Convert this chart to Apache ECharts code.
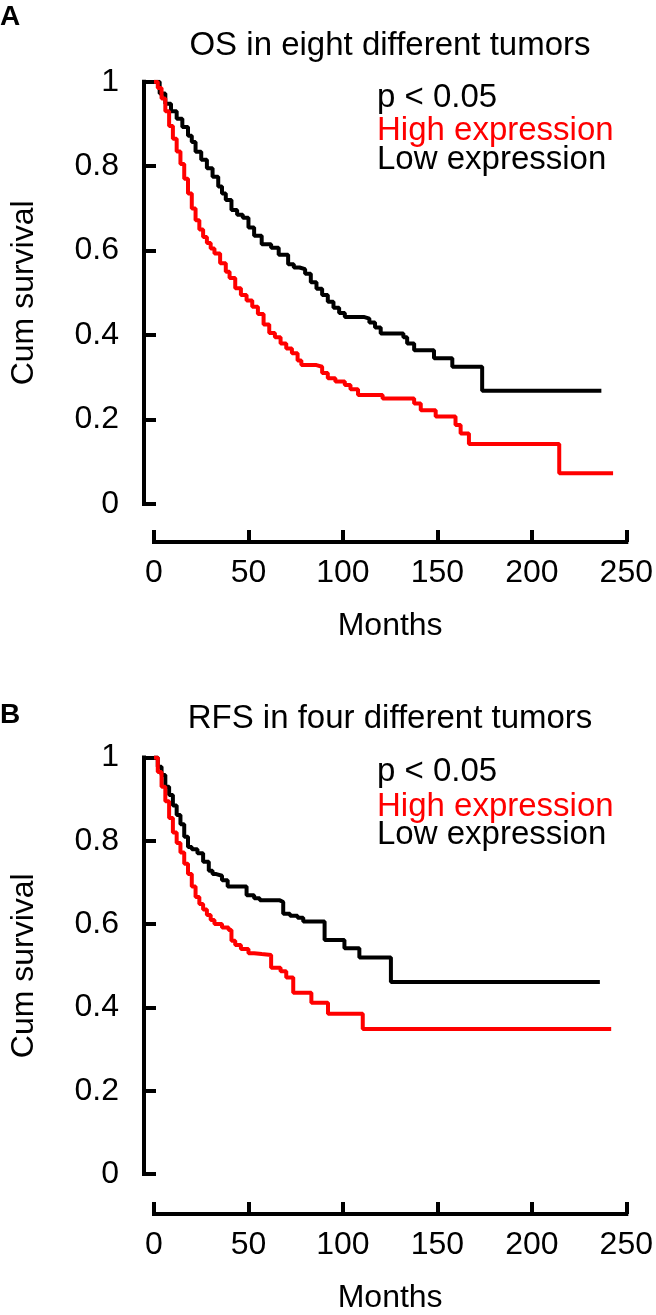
<!DOCTYPE html>
<html>
<head>
<meta charset="utf-8">
<script src="https://cdn.jsdelivr.net/npm/echarts@6/dist/echarts.min.js"></script>
<style>
html,body{margin:0;padding:0;background:#fff;}
#chart{width:656px;height:1315px;}
</style>
</head>
<body>
<div id="chart"></div>
<script>
// ---- Panel A: OS in eight different tumors ----
var osHighMonths = [0, 2, 4, 6, 8, 10, 12, 14, 16, 18, 20, 22, 24, 26, 28, 30, 32, 35, 38, 40, 43, 46, 49, 52, 55, 58, 61, 64, 67, 70, 73, 76, 78, 86, 89, 92, 96, 101, 104, 108, 121, 137.7, 141.2, 149.1, 159.6, 162.3, 166.7, 214.5, 243];
var osHighSurv   = [1, 0.985, 0.96, 0.93, 0.895, 0.865, 0.835, 0.805, 0.77, 0.735, 0.7, 0.672, 0.65, 0.632, 0.618, 0.605, 0.593, 0.57, 0.55, 0.535, 0.511, 0.495, 0.482, 0.467, 0.45, 0.425, 0.405, 0.395, 0.38, 0.368, 0.357, 0.34, 0.329, 0.325, 0.31, 0.298, 0.29, 0.282, 0.272, 0.258, 0.25, 0.238, 0.222, 0.207, 0.187, 0.167, 0.142, 0.073, 0.073];
var osLowMonths  = [0, 3, 6, 9, 12, 15, 18, 20, 22, 25, 28, 31, 34, 36, 38, 41, 44, 47, 50, 53, 57, 62, 66, 71, 74, 77, 80, 83, 86, 89, 92, 95, 98, 101, 111, 114, 117, 120, 132, 134, 137.7, 148.2, 157.9, 173.7, 236.8];
var osLowSurv    = [1, 0.972, 0.948, 0.93, 0.912, 0.893, 0.872, 0.857, 0.834, 0.815, 0.795, 0.775, 0.752, 0.735, 0.72, 0.696, 0.685, 0.678, 0.655, 0.635, 0.615, 0.607, 0.59, 0.568, 0.56, 0.556, 0.545, 0.525, 0.51, 0.495, 0.479, 0.465, 0.452, 0.443, 0.439, 0.43, 0.418, 0.404, 0.395, 0.38, 0.364, 0.345, 0.325, 0.268, 0.268];

// ---- Panel B: RFS in four different tumors ----
var rfsHighMonths = [0, 2, 4, 6, 8, 10, 12, 14, 16, 18, 20, 22, 24, 26, 28, 30, 32, 36, 39.5, 41, 43, 46, 50, 53, 57, 62, 67, 70, 73.7, 83.3, 92.1, 110.5, 242];
var rfsHighSurv   = [1, 0.965, 0.93, 0.895, 0.855, 0.82, 0.795, 0.772, 0.745, 0.72, 0.69, 0.665, 0.648, 0.635, 0.622, 0.61, 0.6, 0.592, 0.586, 0.56, 0.55, 0.54, 0.53, 0.528, 0.526, 0.495, 0.487, 0.472, 0.435, 0.411, 0.385, 0.348, 0.348];
var rfsLowMonths  = [0, 2, 4, 6, 8, 10, 12, 14, 16, 18, 20, 23, 26, 29, 31, 33, 36, 39, 49, 53, 56, 66.6, 68.4, 72, 76, 79, 90.3, 100.8, 108.7, 125.4, 236];
var rfsLowSurv    = [1, 0.978, 0.958, 0.93, 0.91, 0.885, 0.862, 0.84, 0.81, 0.785, 0.78, 0.77, 0.75, 0.728, 0.72, 0.716, 0.705, 0.69, 0.669, 0.662, 0.657, 0.653, 0.625, 0.62, 0.615, 0.606, 0.562, 0.542, 0.52, 0.461, 0.461];

// ---- Axis ticks / labels ----
var xTicks = [0, 50, 100, 150, 200, 250];
var yTicks = [0, 0.2, 0.4, 0.6, 0.8, 1];
var panelLabels = ['A', 'B'];
var panelTitles = ['OS in eight different tumors', 'RFS in four different tumors'];
var annotation = 'p < 0.05';
var seriesNames = ['High expression', 'Low expression'];
var xAxisName = 'Months';
var yAxisName = 'Cum survival';

function zip(xs, ys) { return xs.map(function (x, i) { return [x, ys[i]]; }); }

var FONT = '"Liberation Sans", Arial, sans-serif';
var RED = '#ff0000', BLACK = '#000000';

var grids = [
  { left: 151.7, top: 81.7, width: 475.3, height: 422.3, xOffset: 38 },
  { left: 151.7, top: 757.5, width: 475.3, height: 420.5, xOffset: 40 }
];

function xAxisFor(i) {
  return {
    gridIndex: i, type: 'value',
    min: xTicks[0], max: xTicks[xTicks.length - 1], interval: xTicks[1] - xTicks[0],
    offset: grids[i].xOffset,
    axisLine: { show: true, onZero: false, lineStyle: { color: BLACK, width: 4, cap: 'square' } },
    axisTick: { show: true, inside: true, length: 12, lineStyle: { color: BLACK, width: 4 } },
    axisLabel: { margin: 15, fontSize: 32, color: BLACK, fontFamily: FONT },
    splitLine: { show: false },
    name: xAxisName, nameLocation: 'middle', nameGap: 68,
    nameTextStyle: { fontSize: 32, color: BLACK, fontFamily: FONT }
  };
}
function yAxisFor(i) {
  return {
    gridIndex: i, type: 'value',
    min: yTicks[0], max: yTicks[yTicks.length - 1], interval: yTicks[1] - yTicks[0],
    offset: 10,
    axisLine: { show: true, onZero: false, lineStyle: { color: BLACK, width: 4, cap: 'square' } },
    axisTick: { show: true, inside: true, length: 12, lineStyle: { color: BLACK, width: 4 } },
    axisLabel: { margin: 25, fontSize: 32, color: BLACK, fontFamily: FONT,
      formatter: function (v) { return String(Math.round(v * 10) / 10); } },
    splitLine: { show: false },
    name: yAxisName, nameLocation: 'middle', nameRotate: 90, nameGap: 104,
    nameTextStyle: { fontSize: 32, color: BLACK, fontFamily: FONT }
  };
}
function km(name, data, color, i) {
  return {
    name: name, type: 'line', step: 'end', data: data,
    xAxisIndex: i, yAxisIndex: i,
    showSymbol: false, symbol: 'none', silent: true,
    lineStyle: { color: color, width: 4 }, itemStyle: { color: color },
    z: color === RED ? 3 : 2
  };
}
function txt(t, x, y, opts) {
  opts = opts || {};
  return {
    type: 'text', silent: true, z: 10,
    style: {
      text: t, x: x, y: y, fill: opts.fill || BLACK,
      font: (opts.weight || 'normal') + ' ' + (opts.size || 33) + 'px ' + FONT,
      align: opts.align || 'left', verticalAlign: 'middle'
    }
  };
}

var chart = echarts.init(document.getElementById('chart'), null, { renderer: 'canvas' });
chart.setOption({
  animation: false,
  backgroundColor: '#ffffff',
  grid: grids.map(function (g) { return { left: g.left, top: g.top, width: g.width, height: g.height }; }),
  xAxis: [xAxisFor(0), xAxisFor(1)],
  yAxis: [yAxisFor(0), yAxisFor(1)],
  series: [
    km(seriesNames[1], zip(osLowMonths, osLowSurv), BLACK, 0),
    km(seriesNames[0], zip(osHighMonths, osHighSurv), RED, 0),
    km(seriesNames[1], zip(rfsLowMonths, rfsLowSurv), BLACK, 1),
    km(seriesNames[0], zip(rfsHighMonths, rfsHighSurv), RED, 1)
  ],
  graphic: [
    txt(panelLabels[0], 0, 17, { weight: 'bold', size: 28 }),
    txt(panelTitles[0], 390, 46, { align: 'center' }),
    txt(annotation, 377, 98),
    txt(seriesNames[0], 377, 131, { fill: RED }),
    txt(seriesNames[1], 377, 160),
    txt(panelLabels[1], 0, 715, { weight: 'bold', size: 28 }),
    txt(panelTitles[1], 390, 719, { align: 'center' }),
    txt(annotation, 377, 772),
    txt(seriesNames[0], 377, 807, { fill: RED }),
    txt(seriesNames[1], 377, 835)
  ]
});
</script>
</body>
</html>
